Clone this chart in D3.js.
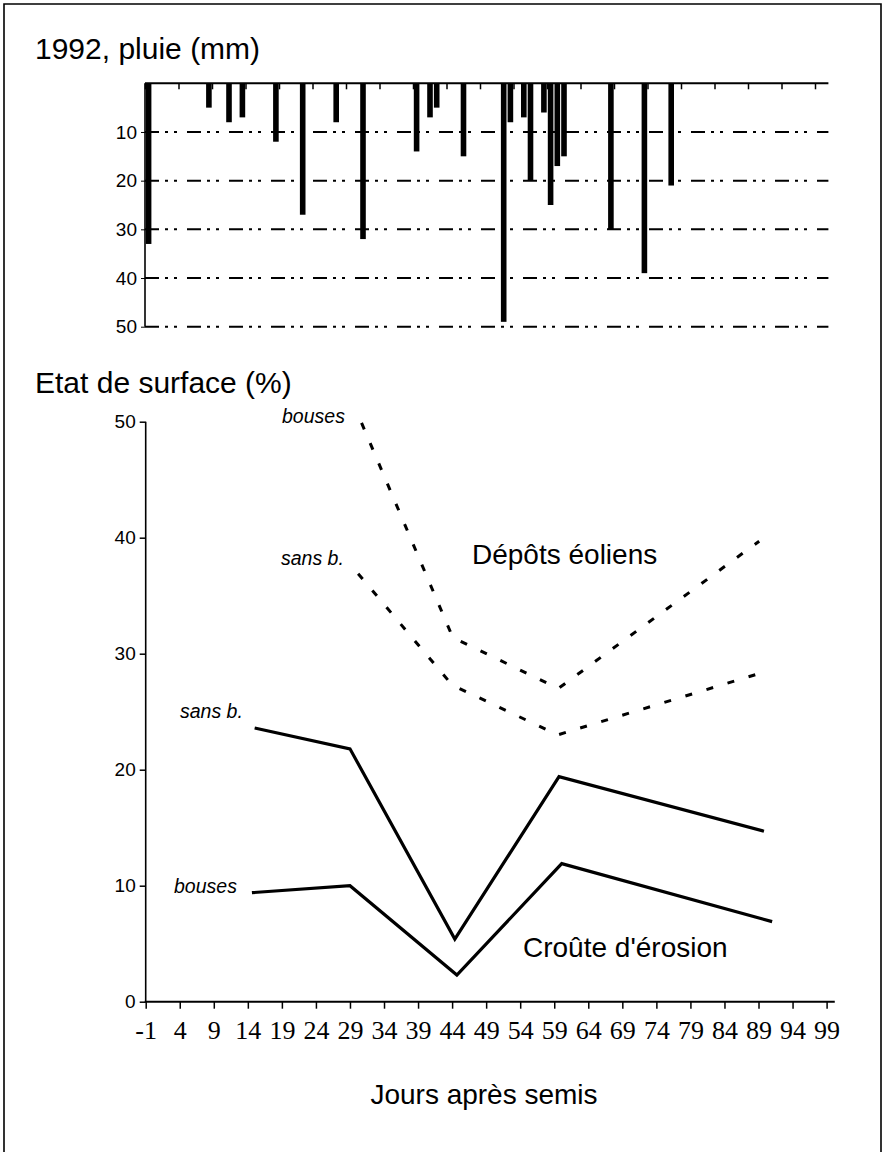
<!DOCTYPE html>
<html><head><meta charset="utf-8">
<script src="https://cdn.jsdelivr.net/npm/d3@7"></script>
<style>body{margin:0;background:#fff}svg{display:block}</style>
</head><body>
<svg id="c" width="884" height="1152"></svg>
<script>
// ---- data ----
const rainDays = [-1, 8, 11, 13, 18, 22, 27, 31, 39, 41, 42, 46, 52, 53, 55, 56, 58, 59, 60, 61, 68, 73, 77];
const rainMm   = [33, 5, 8, 7, 12, 27, 8, 32, 14, 7, 5, 15, 49, 8, 7, 20, 6, 25, 17, 15, 30, 39, 21];
const rainTicks = [10, 20, 30, 40, 50];
const dayTicks = [-1, 4, 9, 14, 19, 24, 29, 34, 39, 44, 49, 54, 59, 64, 69, 74, 79, 84, 89, 94, 99];
const surfTicks = [0, 10, 20, 30, 40, 50];

const crouteSansDays = [15, 29, 44.4, 59.7, 89.8];
const crouteSansPct  = [23.6, 21.8, 5.4, 19.4, 14.7];
const crouteBousesDays = [14.6, 29, 44.7, 60.1, 91];
const crouteBousesPct  = [9.4, 10.0, 2.3, 11.9, 6.9];
const depotBousesDays = [30.7, 44.1, 59.6, 89.1];
const depotBousesPct  = [49.9, 31.4, 27.0, 39.7];
const depotSansDays = [30.2, 44.0, 59.5, 88.6];
const depotSansPct  = [36.9, 27.3, 23.0, 28.2];

const svg = d3.select("#c");
const SANS = "'Liberation Sans', Arial, sans-serif";
const SERIF = "'Liberation Serif', 'Times New Roman', serif";

// frame
svg.append("path").attr("d", "M4,1152 V4 H881 V1152").attr("fill", "none").attr("stroke", "#000").attr("stroke-width", 1.6);

// ---------- top: rain ----------
const xT = d3.scaleLinear().domain([-1, 99]).range([145, 815]);
const yT = d3.scaleLinear().domain([0, 50]).range([83.3, 326.7]);

svg.append("text").attr("x", 35).attr("y", 59).attr("font-family", SANS).attr("font-size", 30).text("1992, pluie (mm)");

svg.append("g").selectAll("line").data(rainTicks).join("line")
  .attr("x1", xT(-1)).attr("x2", xT(101)).attr("y1", d => yT(d)).attr("y2", d => yT(d))
  .attr("stroke", "#000").attr("stroke-width", 2).attr("stroke-dasharray", "14,6,3,6,3,10");

svg.append("g").selectAll("rect").data(rainDays.map((d, i) => ({d, v: rainMm[i]}))).join("rect")
  .attr("x", p => xT(p.d) + 0.8).attr("width", 5.6)
  .attr("y", yT(0)).attr("height", p => yT(p.v) - yT(0)).attr("fill", "#000");

const gTx = svg.append("g").attr("transform", `translate(0,${yT(0)})`)
  .call(d3.axisBottom(xT).tickValues(dayTicks).tickSize(6).tickFormat(""));
gTx.select(".domain").remove();
gTx.selectAll("line").attr("stroke-width", 1.5);
svg.append("line").attr("x1", xT(-1)).attr("x2", xT(101)).attr("y1", yT(0)).attr("y2", yT(0)).attr("stroke", "#000").attr("stroke-width", 2);

const gTy = svg.append("g").attr("transform", `translate(${xT(-1)},0)`)
  .call(d3.axisLeft(yT).tickValues(rainTicks).tickSize(4).tickPadding(4).tickFormat(d => String(d)));
gTy.select(".domain").attr("d", `M0,${yT(0)}V${yT(50)}`).attr("stroke-width", 1.6);
gTy.selectAll("text").attr("font-family", SANS).attr("font-size", 19).attr("fill", "#000");

// ---------- bottom: surface ----------
const xB = d3.scaleLinear().domain([-1, 99]).range([145.7, 826.6]);
const yB = d3.scaleLinear().domain([0, 50]).range([1001.7, 421.7]);

svg.append("text").attr("x", 35).attr("y", 393).attr("font-family", SANS).attr("font-size", 30).text("Etat de surface (%)");

const gBx = svg.append("g").attr("transform", `translate(0,${yB(0)})`)
  .call(d3.axisBottom(xB).tickValues(dayTicks).tickSize(7).tickPadding(12).tickFormat(d => String(d)));
gBx.select(".domain").remove();
gBx.selectAll("line").attr("stroke-width", 1.5);
gBx.selectAll("text").attr("font-family", SERIF).attr("font-size", 26).attr("fill", "#000");
svg.append("line").attr("x1", xB(-1) - 1).attr("x2", xB(100.2)).attr("y1", yB(0)).attr("y2", yB(0)).attr("stroke", "#000").attr("stroke-width", 2);

const gBy = svg.append("g").attr("transform", `translate(${xB(-1)},0)`)
  .call(d3.axisLeft(yB).tickValues(surfTicks).tickSize(6).tickPadding(4).tickFormat(d => String(d)));
gBy.select(".domain").attr("d", `M0,${yB(0)}V${yB(50)}`).attr("stroke-width", 1.6);
gBy.selectAll("line").attr("stroke-width", 1.5);
gBy.selectAll("text").attr("font-family", SANS).attr("font-size", 19).attr("fill", "#000");

const line = d3.line().x(p => xB(p[0])).y(p => yB(p[1]));
const zip = (a, b) => a.map((d, i) => [d, b[i]]);

[[crouteSansDays, crouteSansPct], [crouteBousesDays, crouteBousesPct]].forEach(([dd, vv]) => {
  svg.append("path").attr("d", line(zip(dd, vv))).attr("fill", "none").attr("stroke", "#000")
    .attr("stroke-width", 3.2).attr("stroke-linejoin", "miter");
});
[[depotBousesDays, depotBousesPct], [depotSansDays, depotSansPct]].forEach(([dd, vv]) => {
  svg.append("path").attr("d", line(zip(dd, vv))).attr("fill", "none").attr("stroke", "#000")
    .attr("stroke-width", 3).attr("stroke-dasharray", "7,15");
});

const it = (x, y, t) => svg.append("text").attr("x", x).attr("y", y).attr("font-family", SANS)
  .attr("font-style", "italic").attr("font-size", 19.5).text(t);
it(282, 423, "bouses");
it(281, 565, "sans b.");
it(180, 718, "sans b.");
it(174, 893, "bouses");

svg.append("text").attr("x", 472).attr("y", 564).attr("font-family", SANS).attr("font-size", 28).text("Dépôts éoliens");
svg.append("text").attr("x", 523).attr("y", 957).attr("font-family", SANS).attr("font-size", 28).text("Croûte d'érosion");
svg.append("text").attr("x", 484).attr("y", 1104).attr("text-anchor", "middle").attr("font-family", SANS).attr("font-size", 28).text("Jours après semis");
</script>
</body></html>
